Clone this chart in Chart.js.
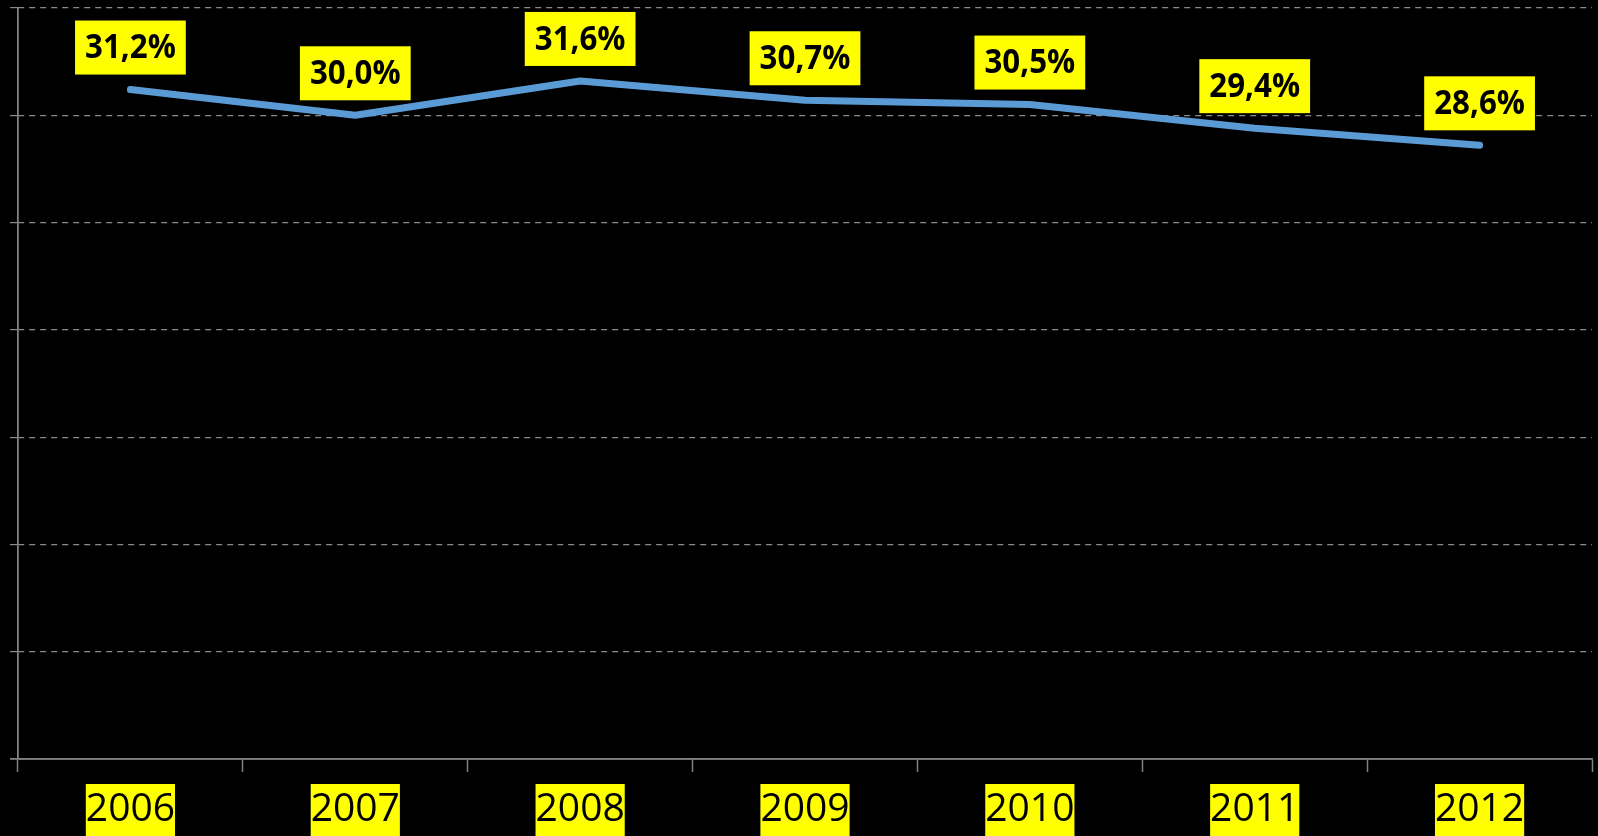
<!DOCTYPE html>
<html>
<head>
<meta charset="utf-8">
<script src="https://cdn.jsdelivr.net/npm/chart.js@4.4.1/dist/chart.umd.min.js"></script>
<style>
html,body{margin:0;padding:0;background:#000;}
#wrap{position:relative;width:1598px;height:836px;}
</style>
</head>
<body>
<div id="wrap"><canvas id="c" width="1598" height="836"></canvas></div>
<script>
const categories = ['2006','2007','2008','2009','2010','2011','2012'];
const shareValues = [31.2, 30.0, 31.6, 30.7, 30.5, 29.4, 28.6];
const valueLabels = ['31,2%','30,0%','31,6%','30,7%','30,5%','29,4%','28,6%'];
const yMin = 0, yMax = 35, yStep = 5;

const labelPlugin = {
  id: 'boxLabels',
  afterDatasetsDraw(chart) {
    const ctx = chart.ctx;
    const meta = chart.getDatasetMeta(0);
    const sx = 0.92;
    ctx.save();
    ctx.font = 'bold 34px "Open Sans"';
    ctx.textAlign = 'center';
    ctx.textBaseline = 'middle';
    meta.data.forEach((pt, i) => {
      const txt = valueLabels[i];
      const w = ctx.measureText(txt).width * sx + 20;
      const h = 54;
      const bottom = pt.y - 15;
      ctx.fillStyle = '#FFFF00';
      ctx.fillRect(pt.x - w / 2, bottom - h, w, h);
      ctx.fillStyle = '#000';
      ctx.save();
      ctx.translate(pt.x, bottom - h / 2 + 1);
      ctx.scale(sx, 1);
      ctx.fillText(txt, 0, 0);
      ctx.restore();
    });
    ctx.restore();
  }
};

const axisLinePlugin = {
  id: 'yAxisLine',
  afterDraw(chart) {
    const ctx = chart.ctx;
    const a = chart.chartArea;
    ctx.save();
    ctx.strokeStyle = '#808080';
    ctx.lineWidth = 1.5;
    ctx.beginPath();
    ctx.moveTo(a.left, a.top);
    ctx.lineTo(a.left, a.bottom);
    ctx.moveTo(a.left - 8, a.bottom);
    ctx.lineTo(a.right, a.bottom);
    ctx.stroke();
    ctx.restore();
  }
};

new Chart(document.getElementById('c'), {
  type: 'line',
  data: {
    labels: categories,
    datasets: [{
      data: shareValues,
      borderColor: '#5B9BD5',
      borderWidth: 7,
      borderCapStyle: 'round',
      borderJoinStyle: 'round',
      pointRadius: 0,
      tension: 0,
      fill: false
    }]
  },
  options: {
    responsive: false,
    animation: false,
    devicePixelRatio: 1,
    layout: { padding: { top: 8, right: 6, left: 0, bottom: 0 } },
    plugins: { legend: { display: false }, tooltip: { enabled: false } },
    scales: {
      x: {
        offset: true,
        grid: {
          offset: true,
          drawOnChartArea: false,
          drawTicks: true,
          tickLength: 13,
          tickColor: '#808080',
          tickWidth: 1.5
        },
        border: { color: '#808080', width: 1.5 },
        ticks: {
          color: '#000',
          font: { family: '"Open Sans"', size: 39, lineHeight: 1.0 },
          padding: 18,
          showLabelBackdrop: true,
          backdropColor: '#FFFF00',
          backdropPadding: { top: 6, bottom: 10, left: 0, right: 0 },
          maxRotation: 0
        },
        afterFit(s) { s.height = 77; }
      },
      y: {
        min: yMin, max: yMax,
        ticks: { stepSize: yStep, display: false },
        grid: {
          color: '#8a8a8a',
          lineWidth: 1.2,
          tickLength: 8,
          tickColor: '#8a8a8a'
        },
        border: { display: true, color: '#8a8a8a', width: 1.2, dash: [6, 5] },
        afterFit(s) { s.width = 18; }
      }
    }
  },
  plugins: [labelPlugin, axisLinePlugin]
});
</script>
</body>
</html>
